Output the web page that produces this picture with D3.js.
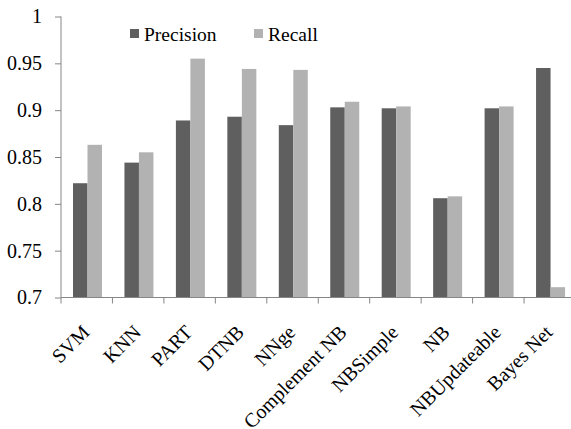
<!DOCTYPE html>
<html><head><meta charset="utf-8">
<script src="https://cdn.jsdelivr.net/npm/d3@7"></script>
<style>body{margin:0;background:#fff}svg{display:block}
svg text{font-family:"Liberation Serif","Times New Roman",serif !important;}</style>
</head><body>
<script>
const categories = ["SVM","KNN","PART","DTNB","NNge","Complement NB","NBSimple","NB","NBUpdateable","Bayes Net"];
const seriesNames = ["Precision","Recall"];
const precision = [0.822,0.844,0.889,0.893,0.884,0.903,0.902,0.806,0.902,0.945];
const recall    = [0.863,0.855,0.955,0.944,0.943,0.909,0.904,0.808,0.904,0.711];
const yTicks = [0.7,0.75,0.8,0.85,0.9,0.95,1];
const yTickLabels = ["0.7","0.75","0.8","0.85","0.9","0.95","1"];
const colors = {Precision:"#5f5f5f", Recall:"#b2b2b2"};

const W=571,H=429;
const svg=d3.select("body").append("svg").attr("width",W).attr("height",H);
const pLeft=61, pRight=575.5, pTop=16.5, pBottom=297.5;

const x=d3.scaleBand().domain(categories).range([pLeft,pRight]).padding(0);
const xs=d3.scaleBand().domain(seriesNames).range([12,41]).padding(0);
const y=d3.scaleLinear().domain([0.7,1]).range([pBottom,pTop]);

const data=categories.map((c,i)=>({c,vals:[{s:"Precision",v:precision[i]},{s:"Recall",v:recall[i]}]}));

// bars
const g=svg.append("g");
g.selectAll("g.cat").data(data).join("g").attr("class","cat").attr("transform",d=>`translate(${x(d.c)},0)`)
 .selectAll("rect").data(d=>d.vals).join("rect")
 .attr("x",d=>xs(d.s)).attr("width",xs.bandwidth())
 .attr("y",d=>y(d.v)).attr("height",d=>y(0.7)-y(d.v))
 .attr("fill",d=>colors[d.s]);

// y axis
const ya=svg.append("g").attr("transform",`translate(${pLeft},0)`)
 .call(d3.axisLeft(y).tickValues(yTicks).tickFormat((d,i)=>yTickLabels[i]).tickSize(6).tickPadding(13));
ya.select(".domain").attr("stroke","#868686").attr("d",`M0,${pTop}V${pBottom}`);
ya.selectAll(".tick line").attr("stroke","#868686");
ya.selectAll(".tick text").attr("font-size",20).attr("fill","#000");

// x axis
const xa=svg.append("g").attr("transform",`translate(0,${pBottom})`);
xa.append("line").attr("x1",pLeft).attr("x2",W).attr("y1",0).attr("y2",0).attr("stroke","#868686");
const boundaries=categories.map(c=>x(c)).concat([x(categories[categories.length-1])+x.step()]);
xa.selectAll("line.t").data(boundaries).join("line").attr("class","t")
 .attr("x1",d=>d).attr("x2",d=>d).attr("y1",0).attr("y2",6).attr("stroke","#868686");
xa.selectAll("text").data(categories).join("text")
 .attr("transform",d=>`translate(${x(d)+x.bandwidth()/2+4},36) rotate(-45)`)
 .attr("text-anchor","end")
 .attr("font-size",20).attr("fill","#000").text(d=>d);

// legend
const leg=svg.append("g");
const legX={Precision:130,Recall:254};
seriesNames.forEach(s=>{
  leg.append("rect").attr("x",legX[s]).attr("y",29).attr("width",9).attr("height",9).attr("fill",colors[s]);
  leg.append("text").attr("x",legX[s]+14).attr("y",41).attr("font-size",19.5).attr("fill","#000").text(s);
});
</script>
</body></html>
